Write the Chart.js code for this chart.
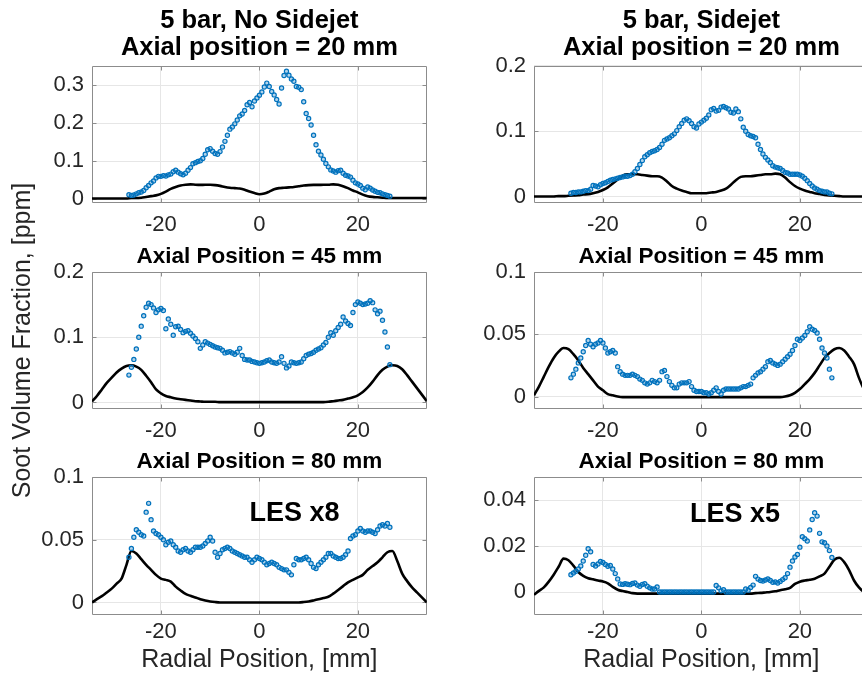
<!DOCTYPE html>
<html>
<head>
<meta charset="utf-8">
<script src="https://cdn.jsdelivr.net/npm/chart.js@4.4.1/dist/chart.umd.min.js"></script>
<style>
  html, body { margin: 0; padding: 0; background: #fff; overflow: hidden; }
  #fig { position: relative; width: 862px; height: 678px; overflow: hidden; background: #fff; }
  #fig canvas { position: absolute; }
</style>
</head>
<body>
<div id="fig"></div>
<script>
// Radial positions of the measured (experimental) points, mm
const radialExp = [
  -26.5, -26, -25.5, -25, -24.5, -24, -23.5, -23, -22.5, -22,
  -21.5, -21, -20.5, -20, -19.5, -19, -18.5, -18, -17.5, -17,
  -16.5, -16, -15.5, -15, -14.5, -14, -13.5, -13, -12.5, -12,
  -11.5, -11, -10.5, -10, -9.5, -9, -8.5, -8, -7.5, -7,
  -6.5, -6, -5.5, -5, -4.5, -4, -3.5, -3, -2.5, -2,
  -1.5, -1, -0.5, 0,
  0.5, 1, 1.5, 2, 2.5, 3, 3.5, 4, 4.5, 5,
  5.5, 6, 6.5, 7, 7.5, 8, 8.5, 9, 9.5, 10,
  10.5, 11, 11.5, 12, 12.5, 13, 13.5, 14, 14.5, 15,
  15.5, 16, 16.5, 17, 17.5, 18, 18.5, 19, 19.5, 20,
  20.5, 21, 21.5, 22, 22.5, 23, 23.5, 24, 24.5, 25,
  25.5, 26, 26.5
];

// Radial positions of the LES profiles, mm
const radialLes = [
  -34, -33, -32, -31, -30, -29, -28, -27, -26, -25,
  -24, -23, -22, -21, -20, -19, -18, -17, -16, -15,
  -14, -13, -12, -11, -10, -9, -8, -7, -6, -5,
  -4, -3, -2, -1, 0, 1, 2, 3, 4, 5,
  6, 7, 8, 9, 10, 11, 12, 13, 14, 15,
  16, 17, 18, 19, 20, 21, 22, 23, 24, 25,
  26, 27, 28, 29, 30, 31, 32, 33, 34
];

// 5 bar, no sidejet, z = 20 mm
const exp20NoJet = [
  0.012, 0.010, 0.011, 0.014, 0.017, 0.019, 0.023, 0.030, 0.036, 0.043,
  0.048, 0.056, 0.060, 0.060, 0.062, 0.061, 0.064, 0.066, 0.072, 0.076,
  0.071, 0.067, 0.064, 0.068, 0.076, 0.083, 0.093, 0.096, 0.099, 0.101,
  0.107, 0.118, 0.130, 0.133, 0.126, 0.120, 0.118, 0.125, 0.137, 0.152,
  0.168, 0.184, 0.190, 0.198, 0.208, 0.219, 0.224, 0.233, 0.248, 0.254,
  0.243, 0.258, 0.266, 0.273,
  0.282, 0.295, 0.305, 0.296, 0.283, 0.274, 0.262, 0.250, 0.292, 0.325,
  0.336, 0.326, 0.316, 0.310, 0.296, 0.294, 0.288, 0.256, 0.225, 0.212,
  0.195, 0.168, 0.143, 0.126, 0.116, 0.105, 0.094, 0.085, 0.077, 0.074,
  0.071, 0.075, 0.076, 0.068, 0.063, 0.061, 0.058, 0.050, 0.043, 0.040,
  0.036, 0.029, 0.025, 0.032, 0.029, 0.024, 0.021, 0.018, 0.017, 0.014,
  0.012, 0.010, 0.008
];
const les20NoJet = [
  0.002, 0.002, 0.002, 0.002, 0.002, 0.002, 0.002, 0.002, 0.003, 0.003,
  0.004, 0.006, 0.008, 0.010, 0.014, 0.020, 0.027, 0.032, 0.036, 0.038,
  0.039, 0.038, 0.0375, 0.038, 0.038, 0.037, 0.035, 0.032, 0.030, 0.029,
  0.028, 0.025, 0.020, 0.016, 0.013, 0.015, 0.020, 0.026, 0.029, 0.030,
  0.031, 0.032, 0.034, 0.036, 0.037, 0.0375, 0.0375, 0.038, 0.038, 0.039,
  0.038, 0.034, 0.029, 0.023, 0.018, 0.012, 0.008, 0.006, 0.005, 0.004,
  0.003, 0.003, 0.003, 0.003, 0.003, 0.003, 0.003, 0.003, 0.003
];

// 5 bar, sidejet, z = 20 mm
const exp20Jet = [
  0.005, 0.006, 0.006, 0.007, 0.007, 0.008, 0.009, 0.009, 0.011, 0.017,
  0.016, 0.015, 0.018, 0.020, 0.021, 0.023, 0.025, 0.026, 0.027, 0.028,
  0.029, 0.030, 0.031, 0.031, 0.032, 0.034, 0.038, 0.043, 0.049, 0.055,
  0.061, 0.064, 0.067, 0.069, 0.070, 0.072, 0.075, 0.080, 0.086, 0.088,
  0.090, 0.093, 0.096, 0.101, 0.107, 0.112, 0.117, 0.119, 0.116, 0.112,
  0.107, 0.105, 0.111, 0.114,
  0.117, 0.120, 0.125, 0.133, 0.135, 0.131, 0.132, 0.137, 0.138, 0.136,
  0.134, 0.129, 0.128, 0.134, 0.130, 0.119, 0.106, 0.100, 0.095, 0.093,
  0.092, 0.090, 0.080, 0.072, 0.065, 0.060, 0.056, 0.052, 0.047, 0.045,
  0.044, 0.043, 0.040, 0.037, 0.036, 0.034, 0.034, 0.034, 0.034, 0.033,
  0.031, 0.028, 0.024, 0.020, 0.016, 0.013, 0.011, 0.009, 0.008, 0.007,
  0.007, 0.005, 0.004
];
const les20Jet = [
  0.000, 0.000, 0.000, 0.000, 0.000, 0.0005, 0.0005, 0.001, 0.0015, 0.002,
  0.003, 0.0035, 0.005, 0.007, 0.010, 0.014, 0.020, 0.026, 0.032, 0.034,
  0.034, 0.034, 0.033, 0.032, 0.031, 0.031, 0.029, 0.023, 0.016, 0.012,
  0.009, 0.007, 0.005, 0.005, 0.005, 0.005, 0.006, 0.007, 0.009, 0.012,
  0.018, 0.025, 0.030, 0.031, 0.031, 0.032, 0.033, 0.034, 0.034, 0.035,
  0.034, 0.029, 0.022, 0.016, 0.012, 0.009, 0.007, 0.005, 0.004, 0.0025,
  0.0015, 0.001, 0.0005, 0.000, 0.000, 0.000, 0.000, 0.000, 0.000
];

// 5 bar, no sidejet, z = 45 mm
const exp45NoJet = [
  0.042, 0.054, 0.066, 0.082, 0.100, 0.117, 0.133, 0.146, 0.152, 0.150,
  0.145, 0.138, 0.142, 0.144, 0.141, 0.113, 0.128, 0.120, 0.103, 0.116,
  0.117, 0.112, 0.107, 0.109, 0.110, 0.106, 0.102, 0.098, 0.093, 0.083,
  0.088, 0.093, 0.091, 0.089, 0.087, 0.085, 0.084, 0.083, 0.080, 0.076,
  0.077, 0.078, 0.076, 0.074, 0.077, 0.083, 0.072, 0.066, 0.065, 0.065,
  0.063, 0.062, 0.061, 0.060,
  0.061, 0.062, 0.064, 0.065, 0.062, 0.061, 0.060, 0.062, 0.070, 0.060,
  0.053, 0.056, 0.062, 0.061, 0.060, 0.061, 0.062, 0.067, 0.072, 0.074,
  0.075, 0.077, 0.080, 0.082, 0.084, 0.088, 0.092, 0.100, 0.107, 0.103,
  0.110, 0.115, 0.120, 0.131, 0.125, 0.121, 0.118, 0.138, 0.150, 0.154,
  0.152, 0.150, 0.151, 0.152, 0.156, 0.153, 0.142, 0.136, 0.140, 0.126,
  0.108, 0.085, 0.058
];
const les45NoJet = [
  0.0015, 0.010, 0.020, 0.030, 0.038, 0.046, 0.052, 0.056, 0.057, 0.055,
  0.050, 0.041, 0.031, 0.020, 0.014, 0.010, 0.008, 0.006, 0.005, 0.004,
  0.003, 0.002, 0.0015, 0.001, 0.001, 0.001, 0.0005, 0.0005, 0.0005, 0.0005,
  0.0005, 0.0005, 0.0005, 0.0005, 0.0005, 0.0005, 0.0005, 0.0005, 0.0005, 0.0005,
  0.0005, 0.0005, 0.0005, 0.0005, 0.0005, 0.0005, 0.0005, 0.0005, 0.001, 0.002,
  0.003, 0.004, 0.006, 0.008, 0.011, 0.016, 0.023, 0.032, 0.042, 0.050,
  0.055, 0.057, 0.056, 0.051, 0.042, 0.032, 0.022, 0.012, 0.002
];

// 5 bar, sidejet, z = 45 mm
const exp45Jet = [
  0.015, 0.018, 0.022, 0.027, 0.031, 0.036, 0.041, 0.045, 0.042, 0.040,
  0.042, 0.043, 0.045, 0.043, 0.039, 0.035, 0.036, 0.037, 0.035, 0.024,
  0.020, 0.018, 0.017, 0.017, 0.017, 0.018, 0.017, 0.016, 0.014, 0.013,
  0.011, 0.010, 0.011, 0.013, 0.012, 0.011, 0.013, 0.020, 0.021, 0.016,
  0.012, 0.009, 0.007, 0.007, 0.010, 0.011, 0.011, 0.011, 0.012, 0.008,
  0.005, 0.004, 0.004, 0.004,
  0.003, 0.003, 0.002, 0.003, 0.005, 0.007, 0.004, 0.002, 0.005, 0.006,
  0.006, 0.006, 0.006, 0.006, 0.006, 0.007, 0.008, 0.008, 0.009, 0.010,
  0.015, 0.017, 0.019, 0.020, 0.022, 0.024, 0.028, 0.029, 0.027, 0.026,
  0.025, 0.026, 0.028, 0.030, 0.032, 0.034, 0.037, 0.041, 0.046, 0.045,
  0.047, 0.049, 0.052, 0.056, 0.054, 0.053, 0.051, 0.046, 0.039, 0.035,
  0.031, 0.022, 0.015
];
const les45Jet = [
  0.001, 0.008, 0.016, 0.024, 0.031, 0.036, 0.039, 0.038, 0.034, 0.029,
  0.023, 0.018, 0.013, 0.008, 0.005, 0.002, 0.001, 0.000, -0.0005, -0.0005,
  -0.0005, -0.0005, -0.0005, -0.0005, -0.0005, -0.0005, -0.0005, -0.0005, -0.0005, -0.0005,
  -0.0005, -0.0005, -0.0005, -0.0005, -0.0005, -0.0005, -0.0005, -0.0005, -0.0005, -0.0005,
  -0.0005, -0.0005, -0.0005, -0.0005, -0.0005, -0.0005, -0.0005, -0.0005, -0.0005, -0.0005,
  -0.0005, 0.000, 0.001, 0.003, 0.006, 0.010, 0.014, 0.019, 0.025, 0.031,
  0.035, 0.038, 0.039, 0.037, 0.032, 0.026, 0.015, 0.006, 0.000
];

// 5 bar, no sidejet, z = 80 mm (LES scaled x8)
const exp80NoJet = [
  0.036, 0.043, 0.052, 0.058, 0.056, 0.054, 0.053, 0.072, 0.079, 0.066,
  0.057, 0.055, 0.054, 0.052, 0.050, 0.046, 0.048, 0.049, 0.046, 0.044,
  0.041, 0.040, 0.042, 0.043, 0.041, 0.040, 0.042, 0.044, 0.044, 0.044,
  0.045, 0.047, 0.049, 0.052, 0.049, 0.040, 0.036, 0.039, 0.042, 0.043,
  0.044, 0.043, 0.041, 0.040, 0.039, 0.038, 0.037, 0.036, 0.036, 0.034,
  0.032, 0.034, 0.036, 0.035,
  0.034, 0.032, 0.030, 0.031, 0.032, 0.031, 0.030, 0.028, 0.027, 0.026,
  0.026, 0.024, 0.022, 0.030, 0.035, 0.034, 0.034, 0.035, 0.036, 0.034,
  0.031, 0.028, 0.027, 0.030, 0.032, 0.034, 0.036, 0.039, 0.039, 0.037,
  0.036, 0.035, 0.035, 0.036, 0.038, 0.041, 0.051, 0.053, 0.054, 0.057,
  0.059, 0.057, 0.056, 0.057, 0.057, 0.056, 0.055, 0.058, 0.061, 0.062,
  0.061, 0.063, 0.060
];
const les80NoJet = [
  0.000, 0.0026, 0.005, 0.008, 0.011, 0.015, 0.019, 0.030, 0.041, 0.039,
  0.0345, 0.030, 0.026, 0.022, 0.019, 0.018, 0.0166, 0.0126, 0.0095, 0.0068,
  0.0053, 0.004, 0.0026, 0.0016, 0.0008, 0.0003, 0.000, 0.000, 0.000, 0.000,
  0.000, 0.000, 0.000, 0.000, 0.000, 0.000, 0.000, 0.000, 0.000, 0.000,
  0.000, 0.000, 0.000, 0.0003, 0.0008, 0.0016, 0.0025, 0.0035, 0.0045, 0.007,
  0.010, 0.013, 0.016, 0.018, 0.020, 0.022, 0.026, 0.029, 0.032, 0.036,
  0.040, 0.041, 0.033, 0.023, 0.017, 0.012, 0.008, 0.004, 0.000
];

// 5 bar, sidejet, z = 80 mm (LES scaled x5)
const exp80Jet = [
  0.0075, 0.0083, 0.0090, 0.0100, 0.0113, 0.0135, 0.0160, 0.0188, 0.0175, 0.0120,
  0.0113, 0.0122, 0.0133, 0.0128, 0.0120, 0.0112, 0.0115, 0.0100, 0.0080, 0.0057,
  0.0035, 0.0033, 0.0036, 0.0034, 0.0032, 0.0037, 0.0039, 0.0030, 0.0025, 0.0033,
  0.0036, 0.0025, 0.0018, 0.0013, 0.0013, 0.0022, 0.0000, 0.0000, 0.0000, 0.0000,
  0.0000, 0.0000, 0.0000, 0.0000, 0.0000, 0.0000, 0.0000, 0.0000, 0.0000, 0.0000,
  0.0000, 0.0000, 0.0000, 0.0000,
  0.0000, 0.0000, 0.0000, 0.0000, 0.0000, 0.0028, 0.0018, 0.0005, 0.0010, 0.0000,
  0.0000, 0.0000, 0.0000, 0.0000, 0.0000, 0.0000, 0.0000, 0.0013, 0.0008, 0.0020,
  0.0030, 0.0068, 0.0056, 0.0050, 0.0048, 0.0052, 0.0057, 0.0050, 0.0042, 0.0044,
  0.0039, 0.0046, 0.0054, 0.0062, 0.0080, 0.0108, 0.0135, 0.0152, 0.0163, 0.0195,
  0.0240, 0.0232, 0.0222, 0.0270, 0.0315, 0.0345, 0.0330, 0.0255, 0.0218, 0.0214,
  0.0200, 0.0180, 0.0150
];
const les80Jet = [
  -0.0012, 0.0005, 0.002, 0.0045, 0.0075, 0.011, 0.0145, 0.0138, 0.0115, 0.0087,
  0.007, 0.006, 0.0055, 0.005, 0.0046, 0.0038, 0.0022, 0.001, 0.0004, 0.000,
  -0.0005, -0.0007, -0.0007, -0.0007, -0.0007, -0.0007, -0.0007, -0.0007, -0.0007, -0.0007,
  -0.0007, -0.0007, -0.0007, -0.0007, -0.0007, -0.0007, -0.0007, -0.0007, -0.0007, -0.0007,
  -0.0007, -0.0007, -0.0007, -0.0007, -0.0007, -0.0005, -0.0004, -0.0002, 0.000, 0.0003,
  0.0008, 0.0012, 0.0018, 0.0035, 0.0045, 0.005, 0.0053, 0.0058, 0.0068, 0.008,
  0.011, 0.014, 0.0149, 0.013, 0.0095, 0.005, 0.002, 0.000, -0.001
];

// Axis ticks
const xTicks = [-20, 0, 20];
const xTickLabels = ['-20', '0', '20'];
const yTicks20NoJet = [0, 0.1, 0.2, 0.3];
const yLabels20NoJet = ['0', '0.1', '0.2', '0.3'];
const yTicks20Jet = [0, 0.1, 0.2];
const yLabels20Jet = ['0', '0.1', '0.2'];
const yTicks45NoJet = [0, 0.1, 0.2];
const yLabels45NoJet = ['0', '0.1', '0.2'];
const yTicks45Jet = [0, 0.05, 0.1];
const yLabels45Jet = ['0', '0.05', '0.1'];
const yTicks80NoJet = [0, 0.05, 0.1];
const yLabels80NoJet = ['0', '0.05', '0.1'];
const yTicks80Jet = [0, 0.02, 0.04];
const yLabels80Jet = ['0', '0.02', '0.04'];

const FONT = '"Liberation Sans", Arial, Helvetica, sans-serif';
const BLUE = '#0072BD';
const FRAME = '#8c8c8c';
const GRID = '#e6e6e6';
const TICK_TEXT = '#262626';

// Box around the axes with inward tick marks on all four sides
const axesFrame = {
  id: 'axesFrame',
  beforeDatasetsDraw(chart) {
    const { ctx, chartArea: a, scales } = chart;
    const l = Math.round(a.left) + 0.5, t = Math.round(a.top) + 0.5;
    const r = Math.round(a.right) - 0.5, b = Math.round(a.bottom) - 0.5;
    ctx.save();
    ctx.strokeStyle = FRAME;
    ctx.lineWidth = 1;
    ctx.beginPath();
    ctx.rect(l, t, r - l, b - t);
    const len = 4;
    scales.x.ticks.forEach(tk => {
      const px = Math.round(scales.x.getPixelForValue(tk.value)) + 0.5;
      ctx.moveTo(px, b); ctx.lineTo(px, b - len);
      ctx.moveTo(px, t); ctx.lineTo(px, t + len);
    });
    scales.y.ticks.forEach(tk => {
      const py = Math.round(scales.y.getPixelForValue(tk.value)) + 0.5;
      ctx.moveTo(l, py); ctx.lineTo(l + len, py);
      ctx.moveTo(r, py); ctx.lineTo(r - len, py);
    });
    ctx.stroke();
    ctx.restore();
  }
};

// In-axes text label placed in data coordinates
const noteLabel = {
  id: 'noteLabel',
  afterDatasetsDraw(chart, args, opts) {
    if (!opts || !opts.text) return;
    const { ctx, scales } = chart;
    ctx.save();
    ctx.font = 'bold 27px ' + FONT;
    ctx.fillStyle = '#000';
    ctx.textAlign = 'left';
    ctx.textBaseline = 'alphabetic';
    ctx.fillText(opts.text, scales.x.getPixelForValue(opts.x), scales.y.getPixelForValue(opts.y));
    ctx.restore();
  }
};

const AREA_W = 336;
const Y_AXIS_W = 92;

const panels = [
  { exp: exp20NoJet, les: les20NoJet, yMin: -0.01, yMax: 0.35, yTicks: yTicks20NoJet, yLabels: yLabels20NoJet,
    title: ['5 bar, No Sidejet', 'Axial position = 20 mm'], row: 0, col: 0 },
  { exp: exp20Jet, les: les20Jet, yMin: -0.01, yMax: 0.2, yTicks: yTicks20Jet, yLabels: yLabels20Jet,
    title: ['5 bar, Sidejet', 'Axial position = 20 mm'], row: 0, col: 1 },
  { exp: exp45NoJet, les: les45NoJet, yMin: -0.01, yMax: 0.2, yTicks: yTicks45NoJet, yLabels: yLabels45NoJet,
    title: 'Axial Position = 45 mm', row: 1, col: 0, yTitle: 'Soot Volume Fraction, [ppm]', extra: 62 },
  { exp: exp45Jet, les: les45Jet, yMin: -0.01, yMax: 0.1, yTicks: yTicks45Jet, yLabels: yLabels45Jet,
    title: 'Axial Position = 45 mm', row: 1, col: 1 },
  { exp: exp80NoJet, les: les80NoJet, yMin: -0.01, yMax: 0.1, yTicks: yTicks80NoJet, yLabels: yLabels80NoJet,
    title: 'Axial Position = 80 mm', row: 2, col: 0, xTitle: 'Radial Position, [mm]',
    note: { text: 'LES x8', x: -2, y: 0.065 } },
  { exp: exp80Jet, les: les80Jet, yMin: -0.01, yMax: 0.05, yTicks: yTicks80Jet, yLabels: yLabels80Jet,
    title: 'Axial Position = 80 mm', row: 2, col: 1, xTitle: 'Radial Position, [mm]',
    note: { text: 'LES x5', x: -2.3, y: 0.0303 } }
];

// Vertical layout of the three rows: canvas top, title block, plot height, x-axis block
const rows = [
  { top: 0,   titleSize: 25.5, titleLH: 1.047, titlePad: { top: 8.05, bottom: 4.55 }, areaH: 137, xAxisH: 38, tickPad: 9 },
  { top: 238, titleSize: 22.5, titleLH: 1.2,   titlePad: { top: 5, bottom: 2 },       areaH: 137, xAxisH: 38, tickPad: 9 },
  { top: 443, titleSize: 22.5, titleLH: 1.2,   titlePad: { top: 5, bottom: 2 },       areaH: 138, xAxisH: 63, tickPad: 4 }
];
const colLeft = [0, 442];

const fig = document.getElementById('fig');

panels.forEach(p => {
  const row = rows[p.row];
  const extra = p.extra || 0;   // transparent room above/below for the long shared y-axis title
  const nLines = Array.isArray(p.title) ? p.title.length : 1;
  const titleH = row.titlePad.top + row.titlePad.bottom + nLines * row.titleSize * row.titleLH;
  const w = Y_AXIS_W + AREA_W + 4;
  const h = Math.round(titleH + row.areaH + row.xAxisH) + 2 * extra;

  const canvas = document.createElement('canvas');
  canvas.width = w;
  canvas.height = h;
  canvas.style.width = w + 'px';
  canvas.style.height = h + 'px';
  canvas.style.left = colLeft[p.col] + 'px';
  canvas.style.top = (row.top - extra) + 'px';
  fig.appendChild(canvas);

  new Chart(canvas, {
    type: 'scatter',
    data: {
      datasets: [
        {
          label: 'Experiment',
          data: radialExp.map((x, i) => ({ x, y: p.exp[i] })),
          showLine: false,
          pointStyle: 'circle',
          pointRadius: 2.1,
          pointBorderWidth: 1.2,
          pointBorderColor: BLUE,
          pointBackgroundColor: 'rgba(0,114,189,0.3)',
          order: 0
        },
        {
          label: 'LES',
          data: radialLes.map((x, i) => ({ x, y: p.les[i] })),
          showLine: true,
          borderColor: '#000',
          borderWidth: 2.6,
          pointRadius: 0,
          cubicInterpolationMode: 'monotone',
          fill: false,
          order: 1
        }
      ]
    },
    options: {
      responsive: false,
      animation: false,
      devicePixelRatio: 1,
      events: [],
      layout: { padding: { left: 0, right: 4, top: extra, bottom: extra } },
      plugins: {
        legend: { display: false },
        tooltip: { enabled: false },
        title: {
          display: true,
          fullSize: false,
          text: p.title,
          color: '#000',
          font: { family: FONT, size: row.titleSize, weight: 'bold', lineHeight: row.titleLH },
          padding: row.titlePad
        },
        noteLabel: p.note || {}
      },
      scales: {
        x: {
          type: 'linear',
          min: -34,
          max: 34,
          afterBuildTicks: s => { s.ticks = xTicks.map(v => ({ value: v })); },
          afterFit: s => { s.height = row.xAxisH; },
          ticks: {
            autoSkip: false,
            maxRotation: 0,
            padding: row.tickPad,
            color: TICK_TEXT,
            font: { family: FONT, size: 22 },
            callback: (v, i) => xTickLabels[i]
          },
          grid: { color: GRID, lineWidth: 1, drawTicks: false },
          border: { display: false },
          title: {
            display: !!p.xTitle,
            text: p.xTitle || '',
            color: TICK_TEXT,
            font: { family: FONT, size: 25 },
            padding: { top: 0, bottom: 2.5 }
          }
        },
        y: {
          type: 'linear',
          min: p.yMin,
          max: p.yMax,
          afterBuildTicks: s => { s.ticks = p.yTicks.map(v => ({ value: v })); },
          afterFit: s => { s.width = Y_AXIS_W; },
          ticks: {
            autoSkip: false,
            padding: 8,
            color: TICK_TEXT,
            font: { family: FONT, size: 22 },
            callback: (v, i) => p.yLabels[i]
          },
          grid: { color: GRID, lineWidth: 1, drawTicks: false },
          border: { display: false },
          title: {
            display: !!p.yTitle,
            text: p.yTitle || '',
            color: TICK_TEXT,
            font: { family: FONT, size: 25 },
            padding: { top: 8.3, bottom: 0 }
          }
        }
      }
    },
    plugins: [axesFrame, noteLabel]
  });
});
</script>
</body>
</html>
